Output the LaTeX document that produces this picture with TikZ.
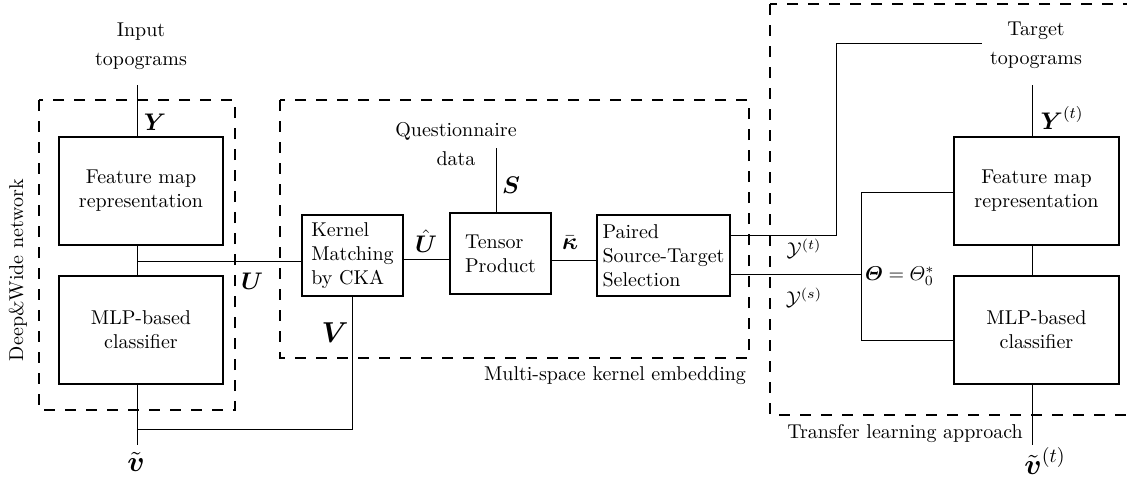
\documentclass[tikz,border=0pt]{standalone}
\usepackage{amsmath,amssymb}
\begin{document}
\begin{tikzpicture}[x=0.5pt,y=-0.5pt,
  every node/.style={inner sep=0pt, outer sep=0pt},
  bigbox/.style={draw, line width=1pt, minimum width=82pt, minimum height=54pt, align=center},
  smallbox/.style={draw, line width=0.6pt, minimum height=40.5pt, align=left},
  grp/.style={draw, line width=0.7pt, dash pattern=on 5.5pt off 5pt},
  wire/.style={line width=0.5pt},
  outer/.style={align=center, font=\fontsize{10}{14.5}\selectfont},
  lab/.style={font=\large},
  biglab/.style={font=\Large}
]
\useasboundingbox (0,0) rectangle (1127,482);

% group frames
\draw[grp] (39,100) rectangle (235,410);
\draw[grp] (280,100) rectangle (749,358);
\draw[grp] (770,4) rectangle (1150,415);

% boxes
\node[bigbox] (fm1) at (141,191) {Feature map\\representation};
\node[bigbox] (mlp1) at (141,330) {MLP-based\\classifier};
\node[smallbox, minimum width=50.5pt] (ker) at (352.5,255.5) {Kernel\\Matching\\by CKA};
\node[smallbox, minimum width=50.5pt] (ten) at (500.5,253.5) {Tensor\\Product};
\node[smallbox, minimum width=66.5pt] (pai) at (663.5,255.5) {Paired\\Source-Target\\Selection};
\node[bigbox, minimum width=82.5pt] (fm2) at (1036.5,191) {Feature map\\representation};
\node[bigbox, minimum width=82.5pt] (mlp2) at (1036.5,330) {MLP-based\\classifier};

% outer texts
\node[outer] (in) at (141,46) {Input\\topograms};
\node[outer] (qd) at (456,144) {Questionnaire\\data};
\node[outer] (tt) at (1036,45) {Target\\topograms};
\node (mske) at (615,376) {Multi-space kernel embedding};
\node (tla) at (905,434) {Transfer learning approach};
\node[rotate=90] (dwn) at (18,270) {Deep\&Wide network};

% math labels
\node[lab] (ly) at (155,122) {$\boldsymbol{Y}$};
\node[lab] (lu) at (252,281) {$\boldsymbol{U}$};
\node[biglab] (lv) at (335,333) {$\boldsymbol{V}$};
\node[biglab] (lvt) at (136,462) {$\tilde{\boldsymbol{v}}$};
\node[lab] (luh) at (426,241) {$\hat{\boldsymbol{U}}$};
\node[lab] (lk) at (570,243) {$\bar{\boldsymbol{\kappa}}$};
\node[lab] (ls) at (511,185) {$\boldsymbol{S}$};
\node (lyt) at (804,249) {$\mathcal{Y}^{(t)}$};
\node (lys) at (804,298) {$\mathcal{Y}^{(s)}$};
\node[anchor=west] (lth) at (865,276) {$\boldsymbol{\varTheta}=\varTheta_0^*$};
\node[lab] (lY2) at (1062,118) {$\boldsymbol{Y}^{(t)}$};
\node[biglab] (lv2) at (1045,461) {$\tilde{\boldsymbol{v}}^{(t)}$};

% coordinates
\coordinate (cin) at (137,85);
\coordinate (j1) at (137,261);
\coordinate (j2) at (137,429);
\coordinate (out1) at (137,445);
\coordinate (lvA) at (0,259);
\coordinate (lvB) at (0,260);
\coordinate (s0) at (496,148);
\coordinate (yt) at (0,235);
\coordinate (t1) at (836,43);
\coordinate (t2) at (982,43);
\coordinate (th) at (861,274);
\coordinate (bt) at (861,192);
\coordinate (bb) at (861,340);
\coordinate (cin2) at (1032,85);
\coordinate (out2) at (1032,445);

% wires
\draw[wire] (cin) -- (cin |- fm1.north);
\draw[wire] (cin |- fm1.south) -- (cin |- mlp1.north);
\draw[wire] (j1) -- (j1 -| ker.west);
\draw[wire] (cin |- mlp1.south) -- (out1);
\draw[wire] (ker.south) |- (j2);
\draw[wire] (ker.east |- lvA) -- (ten.west |- lvA);
\draw[wire] (s0) -- (s0 |- ten.north);
\draw[wire] (ten.east |- lvB) -- (pai.west |- lvB);
\draw[wire] (pai.east |- yt) -| (t1) -- (t2);
\draw[wire] (pai.east |- th) -- (th);
\draw[wire] (fm2.west |- bt) -- (bt) -- (bb) -- (mlp2.west |- bb);
\draw[wire] (cin2) -- (cin2 |- fm2.north);
\draw[wire] (cin2 |- fm2.south) -- (cin2 |- mlp2.north);
\draw[wire] (cin2 |- mlp2.south) -- (out2);
\end{tikzpicture}
\end{document}
